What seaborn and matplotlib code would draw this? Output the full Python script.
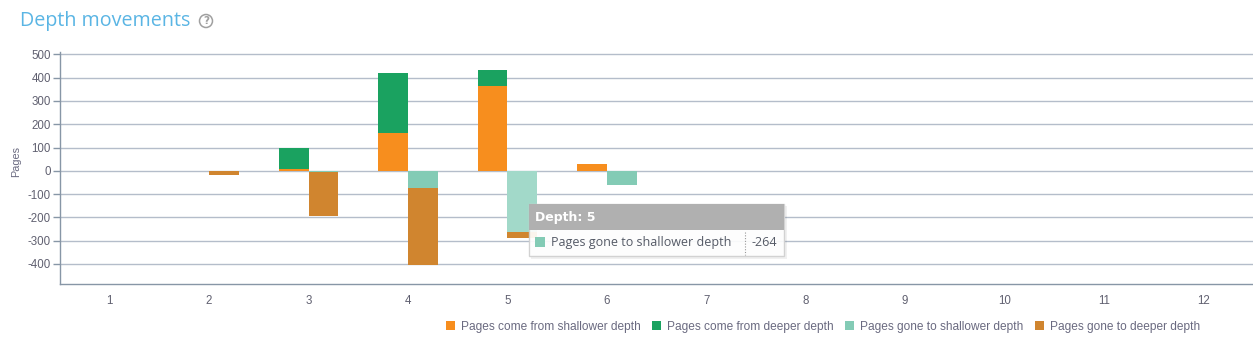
import matplotlib
matplotlib.use("Agg")
import matplotlib.pyplot as plt
from matplotlib.patches import Rectangle, Patch, Ellipse
from matplotlib.lines import Line2D
import seaborn as sns
import pandas as pd
import numpy as np

# ---- data ----
depths = ["1", "2", "3", "4", "5", "6", "7", "8", "9", "10", "11", "12"]
come_from_shallower = [0, 0, 9, 163, 365, 30, 0, 0, 0, 0, 0, 0]
come_from_deeper = [0, 0, 90, 257, 69, 0, 0, 0, 0, 0, 0, 0]
gone_to_shallower = [0, 0, -4, -73, -264, -63, -2, 0, 0, 0, -2, 0]
gone_to_deeper = [0, -20, -189, -333, -24, 0, 0, 0, 0, 0, 0, 0]
series_names = ["Pages come from shallower depth", "Pages come from deeper depth",
                "Pages gone to shallower depth", "Pages gone to deeper depth"]
yticks = [-400, -300, -200, -100, 0, 100, 200, 300, 400, 500]

C_ORANGE = "#f78e1e"
C_GREEN = "#1aa260"
C_TEAL = "#83cbb5"
C_BROWN = "#d0852f"
C_TEAL_HI = "#a2d9c9"

sns.set_theme(style="white")
plt.rcParams["font.family"] = ["Liberation Sans", "DejaVu Sans"]

W, H = 1253, 342
fig = plt.figure(figsize=(W / 100, H / 100), dpi=100)
ax = fig.add_axes([60 / W, 1 - 284 / H, (1253 - 60) / W, (284 - 52) / H])

up_tot = np.array(come_from_shallower) + np.array(come_from_deeper)
dn_tot = np.array(gone_to_shallower) + np.array(gone_to_deeper)

outer = pd.DataFrame({
    "depth": depths * 2,
    "side": ["up"] * 12 + ["down"] * 12,
    "value": list(up_tot) + list(dn_tot),
})
inner = pd.DataFrame({
    "depth": depths * 2,
    "side": ["up"] * 12 + ["down"] * 12,
    "value": list(come_from_shallower) + list(gone_to_shallower),
})

sns.barplot(data=outer, x="depth", y="value", hue="side", hue_order=["up", "down"],
            palette={"up": C_GREEN, "down": C_BROWN}, width=0.6, gap=0, dodge=True,
            saturation=1, linewidth=0, errorbar=None, legend=False, ax=ax, zorder=3)
n_before = len(ax.patches)
sns.barplot(data=inner, x="depth", y="value", hue="side", hue_order=["up", "down"],
            palette={"up": C_ORANGE, "down": C_TEAL}, width=0.6, gap=0, dodge=True,
            saturation=1, linewidth=0, errorbar=None, legend=False, ax=ax, zorder=4)
# highlight hovered bar (depth 5, gone to shallower)
for p in ax.patches[n_before:]:
    cx = p.get_x() + p.get_width() / 2
    if abs(cx - (4 + 0.15)) < 0.05 and p.get_facecolor()[1] > 0.7:
        p.set_facecolor(C_TEAL_HI)

ax.set_xlim(-0.5, 11.5)
ax.set_ylim(-486, 510)
ax.set_yticks(yticks)
ax.set_yticklabels([str(v) for v in yticks])
ax.grid(axis="y", color="#b4bdca", linewidth=1.0, zorder=0)
ax.grid(axis="x", visible=False)
ax.set_xlabel("")
ax.set_ylabel("")

for s in ["top", "right"]:
    ax.spines[s].set_visible(False)
ax.spines["left"].set_color("#8796a6")
ax.spines["bottom"].set_color("#8796a6")
ax.spines["left"].set_linewidth(1.0)
ax.spines["bottom"].set_linewidth(1.0)

ax.set_xticks(range(12))
ax.set_xticklabels(depths)
ax.set_xticks(np.arange(-0.5, 12, 1.0), minor=True)
ax.tick_params(axis="x", which="major", length=0, pad=8, labelsize=8.3, labelcolor="#606070")
ax.tick_params(axis="x", which="minor", length=5, width=1, color="#8796a6", direction="out")
ax.tick_params(axis="y", which="major", length=5, width=1, color="#8796a6", direction="out",
               left=True, pad=1.5, labelsize=8.3, labelcolor="#606070")

# y label
fig.text(16 / W, 1 - 161 / H, "Pages", rotation=90, ha="center", va="center",
         fontsize=7.8, color="#6a6a80")

# title
fig.text(20 / W, 1 - 21 / H, "Depth movements", ha="left", va="center",
         fontsize=14.2, color="#5ab5e4", family=["Open Sans", "DejaVu Sans"])
fig.add_artist(Ellipse((206 / W, 1 - 21 / H), width=13 / W, height=13 / H,
                       transform=fig.transFigure, fill=False, edgecolor="#a0a0a0",
                       linewidth=1.1))
fig.text(206 / W, 1 - 21 / H, "?", ha="center", va="center", fontsize=7.5,
         color="#a0a0a0", family=["DejaVu Sans"], fontweight="bold")

# legend
handles = [Patch(facecolor=c, edgecolor="none") for c in [C_ORANGE, C_GREEN, C_TEAL, C_BROWN]]
fig.legend(handles, series_names, ncol=4, loc="center", bbox_to_anchor=(823 / W, 1 - 327 / H),
           frameon=False, fontsize=8.6, labelcolor="#6a6a80", handlelength=0.75,
           handleheight=0.75, handletextpad=0.5, columnspacing=0.95, borderpad=0)

# tooltip
def px_rect(x0, y0, x1, y1, **kw):
    r = Rectangle((x0 / W, 1 - y1 / H), (x1 - x0) / W, (y1 - y0) / H,
                  transform=fig.transFigure, **kw)
    fig.add_artist(r)
    return r

px_rect(531, 206, 787, 259, facecolor="#000000", alpha=0.06, edgecolor="none", zorder=9)
px_rect(529, 204, 784, 256, facecolor="#ffffff", alpha=0.92, edgecolor="#cfcfcf",
        linewidth=1, zorder=10)
px_rect(529, 204, 784, 230, facecolor="#b0b0b0", edgecolor="none", zorder=11)
fig.text(535 / W, 1 - 217 / H, "Depth: 5", ha="left", va="center", fontsize=9,
         fontweight="bold", color="white", family=["DejaVu Sans"], zorder=12)
px_rect(535, 237, 545, 247, facecolor=C_TEAL, edgecolor="none", zorder=12)
fig.text(551 / W, 1 - 242.5 / H, "Pages gone to shallower depth", ha="left", va="center",
         fontsize=9, color="#555a66", family=["Open Sans", "DejaVu Sans"], zorder=12)
fig.add_artist(Line2D([745 / W, 745 / W], [1 - 232 / H, 1 - 255 / H], transform=fig.transFigure,
                      color="#999999", linewidth=0.8, linestyle=(0, (1, 1.5)), zorder=12))
fig.text(752 / W, 1 - 242.5 / H, "-264", ha="left", va="center",
         fontsize=9, color="#555a66", family=["Open Sans", "DejaVu Sans"], zorder=12)

fig.savefig("out.png", dpi=100)
